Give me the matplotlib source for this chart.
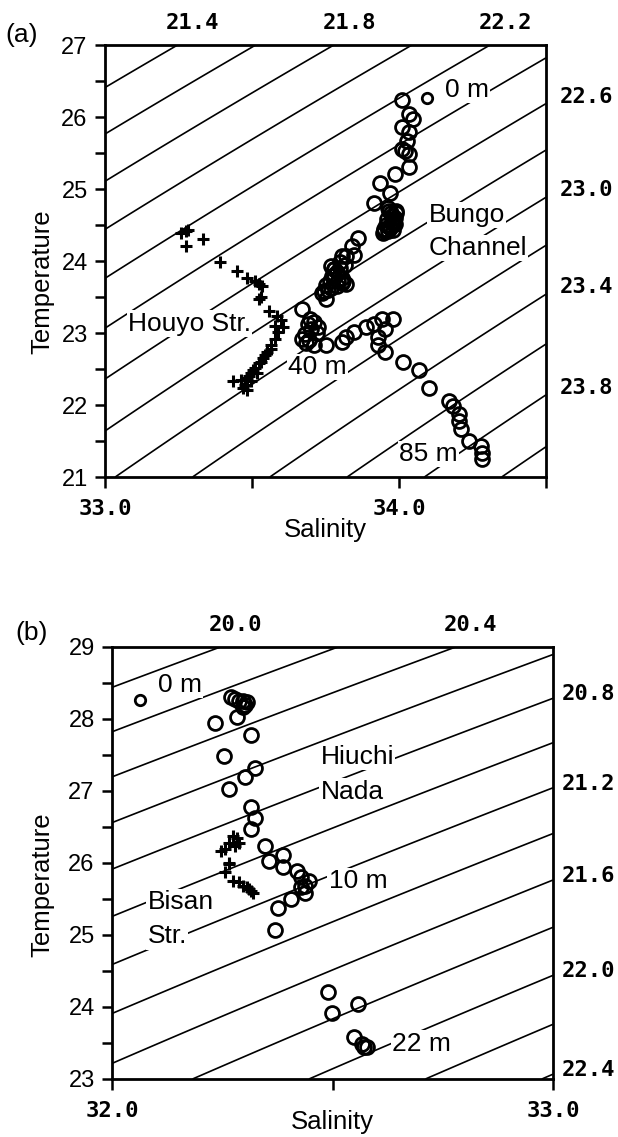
import numpy as np
import matplotlib.pyplot as plt
from matplotlib.ticker import MultipleLocator

plt.rcParams['font.family'] = ['Liberation Sans', 'DejaVu Sans']

# ---- (a) Bungo Channel / Houyo Strait ----
a_surf_s = [34.096]
a_surf_t = [26.27]
a_bungo_s = [34.011, 34.035, 34.046, 34.011, 34.035, 34.028, 34.019, 34.035, 34.011, 34.035,
             33.988, 33.934, 33.968, 33.914, 33.961, 33.974, 33.988, 33.981, 33.968, 33.947,
             33.961, 33.981, 33.955, 33.975, 33.990, 33.860, 33.840, 33.846, 33.806, 33.800,
             33.780, 33.772, 33.792, 33.819, 33.752, 33.790, 33.770, 33.805, 33.819, 33.779,
             33.806, 33.739, 33.752, 33.760, 33.671, 33.698, 33.725, 33.671, 33.685, 33.712,
             33.752, 33.806, 33.819, 33.846, 33.887, 33.914, 33.941, 33.981, 33.954, 33.927,
             33.927, 33.954, 34.015, 34.069, 34.102, 34.170, 34.183, 34.204, 34.204, 34.210,
             34.237, 34.278, 34.284, 34.284,
             33.950, 33.970, 33.985, 33.960, 33.975, 33.990, 33.965, 33.950,
             33.770, 33.790, 33.810, 33.780, 33.800, 33.815, 33.765, 33.745,
             33.690, 33.710, 33.700, 33.680, 33.695, 33.720]
a_bungo_t = [26.235, 26.04, 25.97, 25.855, 25.79, 25.67, 25.53, 25.49, 25.56, 25.305,
             25.21, 25.08, 24.94, 24.80, 24.73, 24.66, 24.60, 24.53, 24.46, 24.39,
             24.41, 24.43, 24.50, 24.56, 24.70, 24.32, 24.21, 24.09, 24.07, 23.98,
             23.885, 23.79, 23.725, 23.68, 23.66, 23.85, 23.93, 23.76, 24.07, 23.885,
             23.70, 23.56, 23.47, 23.60, 23.335, 23.20, 23.08, 22.92, 22.855, 22.83,
             22.83, 22.88, 22.95, 23.015, 23.08, 23.13, 23.20, 23.19, 23.06, 22.95,
             22.83, 22.74, 22.60, 22.49, 22.24, 22.05, 21.98, 21.87, 21.78, 21.66,
             21.50, 21.43, 21.34, 21.25,
             24.45, 24.48, 24.52, 24.58, 24.62, 24.67, 24.70, 24.42,
             23.62, 23.65, 23.72, 23.80, 23.90, 23.95, 23.72, 23.58,
             23.12, 23.15, 23.05, 22.98, 22.90, 23.00]
a_houyo_s = [33.260, 33.274, 33.283, 33.274, 33.332, 33.391, 33.449, 33.482, 33.509, 33.523,
             33.534, 33.530, 33.523, 33.557, 33.584, 33.597, 33.604, 33.590, 33.577, 33.563,
             33.550, 33.536, 33.523, 33.509, 33.496, 33.482, 33.476, 33.482, 33.435, 33.462,
             33.577, 33.563, 33.516, 33.496, 33.469, 33.545, 33.530, 33.505, 33.490]
a_houyo_t = [24.39, 24.41, 24.43, 24.21, 24.30, 23.98, 23.86, 23.77, 23.72, 23.68,
             23.65, 23.50, 23.47, 23.31, 23.24, 23.175, 23.08, 23.015, 22.92, 22.83,
             22.74, 22.65, 22.58, 22.51, 22.44, 22.37, 22.28, 22.21, 22.33, 22.35,
             23.10, 22.78, 22.44, 22.33, 22.235, 22.70, 22.60, 22.48, 22.40]

# ---- (b) Hiuchi Nada / Bisan Strait ----
b_surf_s = [32.063]
b_surf_t = [28.27]
b_hiuchi_s = [32.270, 32.279, 32.288, 32.297, 32.306, 32.302, 32.297, 32.284, 32.234, 32.315,
              32.254, 32.324, 32.302, 32.266, 32.315, 32.324, 32.315, 32.347, 32.387, 32.356,
              32.387, 32.419, 32.428, 32.446, 32.437, 32.428, 32.437, 32.405, 32.376, 32.369,
              32.489, 32.498, 32.557, 32.548, 32.568, 32.579, 32.572]
b_hiuchi_t = [28.30, 28.28, 28.25, 28.245, 28.24, 28.19, 28.16, 28.03, 27.95, 27.78,
              27.48, 27.32, 27.19, 27.03, 26.78, 26.62, 26.47, 26.23, 26.11, 26.03,
              25.94, 25.89, 25.80, 25.75, 25.68, 25.66, 25.59, 25.50, 25.37, 25.07,
              24.21, 23.915, 24.04, 23.58, 23.49, 23.44, 23.45]
b_bisan_s = [32.275, 32.284, 32.266, 32.257, 32.279, 32.288, 32.266, 32.248, 32.266, 32.257,
             32.275, 32.288, 32.297, 32.306, 32.315, 32.320, 32.311]
b_bisan_t = [26.37, 26.35, 26.28, 26.19, 26.23, 26.28, 26.00, 26.17, 25.98, 25.87,
             25.75, 25.73, 25.68, 25.66, 25.61, 25.59, 25.64]


def sigma_t(s, t):
    # UNESCO 1980 equation of state at zero pressure
    rho_w = (999.842594 + 6.793952e-2 * t - 9.095290e-3 * t**2 + 1.001685e-4 * t**3
             - 1.120083e-6 * t**4 + 6.536332e-9 * t**5)
    a = 0.824493 - 4.0899e-3 * t + 7.6438e-5 * t**2 - 8.2467e-7 * t**3 + 5.3875e-9 * t**4
    b = -5.72466e-3 + 1.0227e-4 * t - 1.6546e-6 * t**2
    return rho_w + a * s + b * s**1.5 + 4.8314e-4 * s**2 - 1000.0


num_font = dict(family='DejaVu Sans Mono', fontsize=16, fontweight='bold')
txt_font = dict(fontsize=19, bbox=dict(facecolor='white', edgecolor='none', pad=1.0))


def ts_panel(ax, slim, tlim, levels, top_vals, right_vals, right_dx, right_dy,
             xlab_y, ylab_x, ylab_y):
    ss, tt = np.meshgrid(np.linspace(slim[0], slim[1], 400), np.linspace(tlim[0], tlim[1], 400))
    ax.contour(ss, tt, sigma_t(ss, tt), levels=levels, colors='k', linewidths=1.2, zorder=1)
    ax.set_xlim(slim)
    ax.set_ylim(tlim)

    # sigma-t labels where the isopycnals leave the top and right edges
    sg = np.linspace(slim[0] - 0.5, slim[1] + 0.5, 4000)
    for v in top_vals:
        s_at = np.interp(v, sigma_t(sg, tlim[1]), sg)
        ax.annotate(f'{v:.1f}', xy=(s_at, tlim[1]), xytext=(11, 16), textcoords='offset points',
                    ha='center', va='center', annotation_clip=False, **num_font)
    tg = np.linspace(tlim[0] - 3, tlim[1] + 3, 4000)
    for v in right_vals:
        t_at = np.interp(v, sigma_t(slim[1], tg)[::-1], tg[::-1])
        ax.annotate(f'{v:.1f}', xy=(slim[1], t_at), xytext=(right_dx, right_dy),
                    textcoords='offset points', ha='left', va='center',
                    annotation_clip=False, **num_font)

    wide = slim[1] - slim[0] > 1.2
    ax.set_xticks([slim[0], slim[0] + 0.5, slim[0] + 1.0] + ([slim[0] + 1.5] if wide else []))
    labs = [f'{slim[0]:.1f}', '', f'{slim[0] + 1:.1f}'] + ([''] if wide else [])
    ax.set_xticklabels(labs, family='DejaVu Sans Mono', fontsize=16, fontweight='bold')
    ax.yaxis.set_major_locator(MultipleLocator(1))
    ax.yaxis.set_minor_locator(MultipleLocator(0.5))
    ax.set_yticklabels([f'{v:.0f}' for v in ax.get_yticks()], fontsize=17)
    ax.tick_params(axis='y', which='both', direction='out', length=7.5, width=1.8, pad=5)
    ax.tick_params(axis='x', which='major', direction='out', length=8, width=1.8, pad=8)
    for sp in ax.spines.values():
        sp.set_linewidth(2.0)
    ax.set_xlabel('Salinity', fontsize=18.5, va='center')
    ax.set_ylabel('Temperature', fontsize=18.5, va='center')
    ax.xaxis.set_label_coords(0.5, xlab_y)
    ax.yaxis.set_label_coords(ylab_x, ylab_y)


fig = plt.figure(figsize=(6.18, 11.37), dpi=100)
circ = dict(marker='o', ls='none', mfc='none', mec='k', ms=10, mew=2.0, zorder=3)
dot = dict(marker='o', ls='none', mfc='none', mec='k', ms=7.5, mew=2.0, zorder=3)
plus = dict(marker='+', ls='none', color='k', ms=8.5, mew=2.2, zorder=3)

# (a)
ax1 = fig.add_axes([105 / 618, 1 - 477 / 1137, 441 / 618, 432 / 1137])
ts_panel(ax1, (33.0, 34.5), (21, 27), np.arange(21.0, 24.81, 0.2),
         [21.4, 21.8, 22.2], [22.6, 23.0, 23.4, 23.8], 10, 5, -0.123, -0.143, 0.451)
ax1.plot(a_bungo_s, a_bungo_t, **circ)
ax1.plot(a_surf_s, a_surf_t, **dot)
ax1.plot(a_houyo_s, a_houyo_t, **plus)
ax1.text(34.156, 26.38, '0 m', ha='left', va='center', **txt_font)
ax1.text(34.10, 24.64, 'Bungo', ha='left', va='center', **txt_font)
ax1.text(34.10, 24.18, 'Channel', ha='left', va='center', **txt_font)
ax1.text(33.078, 23.13, 'Houyo Str.', ha='left', va='center', **txt_font)
ax1.text(33.624, 22.53, '40 m', ha='left', va='center', **txt_font)
ax1.text(34.00, 21.32, '85 m', ha='left', va='center', **txt_font)
fig.text(5 / 618, 1 - 35 / 1137, '(a)', ha='left', va='center', fontsize=19)

# (b)
ax2 = fig.add_axes([112 / 618, 1 - 1079 / 1137, 441 / 618, 432 / 1137])
ts_panel(ax2, (32.0, 33.0), (23, 29), np.arange(19.4, 23.21, 0.2),
         [20.0, 20.4], [20.8, 21.2, 21.6, 22.0, 22.4], 6.5, 3, -0.0995, -0.159, 0.449)
ax2.plot(b_hiuchi_s, b_hiuchi_t, **circ)
ax2.plot(b_surf_s, b_surf_t, **dot)
ax2.plot(b_bisan_s, b_bisan_t, **plus)
ax2.text(32.104, 28.47, '0 m', ha='left', va='center', **txt_font)
ax2.text(32.473, 27.47, 'Hiuchi', ha='left', va='center', **txt_font)
ax2.text(32.473, 26.99, 'Nada', ha='left', va='center', **txt_font)
ax2.text(32.491, 25.75, '10 m', ha='left', va='center', **txt_font)
ax2.text(32.081, 25.46, 'Bisan', ha='left', va='center', **txt_font)
ax2.text(32.081, 24.98, 'Str.', ha='left', va='center', **txt_font)
ax2.text(32.635, 23.49, '22 m', ha='left', va='center', **txt_font)
fig.text(15 / 618, 1 - 633 / 1137, '(b)', ha='left', va='center', fontsize=19)

fig.savefig('out.png', dpi=100)
